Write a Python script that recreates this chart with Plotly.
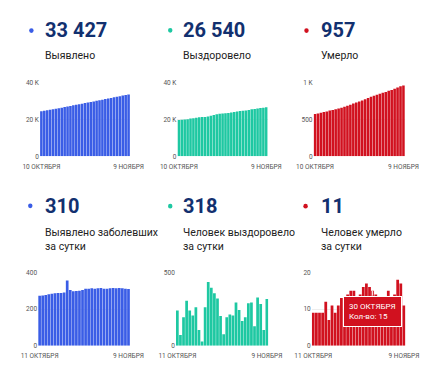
import plotly.graph_objects as go

W, H = 435, 370

# ---------------- data ----------------
dates_top = ["10 ОКТЯБРЯ", "11 ОКТЯБРЯ", "12 ОКТЯБРЯ", "13 ОКТЯБРЯ", "14 ОКТЯБРЯ", "15 ОКТЯБРЯ",
             "16 ОКТЯБРЯ", "17 ОКТЯБРЯ", "18 ОКТЯБРЯ", "19 ОКТЯБРЯ", "20 ОКТЯБРЯ", "21 ОКТЯБРЯ",
             "22 ОКТЯБРЯ", "23 ОКТЯБРЯ", "24 ОКТЯБРЯ", "25 ОКТЯБРЯ", "26 ОКТЯБРЯ", "27 ОКТЯБРЯ",
             "28 ОКТЯБРЯ", "29 ОКТЯБРЯ", "30 ОКТЯБРЯ", "31 ОКТЯБРЯ", "1 НОЯБРЯ", "2 НОЯБРЯ",
             "3 НОЯБРЯ", "4 НОЯБРЯ", "5 НОЯБРЯ", "6 НОЯБРЯ", "7 НОЯБРЯ", "8 НОЯБРЯ", "9 НОЯБРЯ"]
dates_bottom = dates_top[1:]

cases_total = [24342, 24614, 24888, 25165, 25446, 25729, 26015, 26303, 26591, 26881, 27237,
               27541, 27838, 28137, 28437, 28741, 29052, 29363, 29676, 29987, 30300, 30615,
               30926, 31237, 31550, 31865, 32178, 32493, 32806, 33117, 33427]
recovered_total = [19560, 19800, 19873, 20068, 20374, 20614, 20820, 21082, 21189, 21218, 21480,
                   21915, 22310, 22667, 22989, 23191, 23269, 23464, 23677, 23883, 24178, 24422,
                   24591, 24786, 25075, 25370, 25503, 25831, 26115, 26222, 26540]
deaths_total = [571, 580, 589, 598, 607, 619, 626, 637, 646, 657, 670, 683, 697, 712, 727, 740,
                754, 770, 787, 803, 818, 832, 845, 858, 870, 885, 897, 911, 929, 946, 957]

cases_daily = [272, 274, 277, 281, 283, 286, 288, 288, 290, 356, 304, 297, 299, 300, 304, 311,
               311, 313, 311, 313, 315, 311, 311, 313, 315, 313, 315, 313, 311, 310]
recovered_daily = [240, 73, 195, 306, 240, 206, 262, 107, 29, 262, 435, 395, 357, 322, 202, 78,
                   195, 213, 206, 295, 244, 169, 195, 289, 295, 133, 328, 284, 107, 318]
deaths_daily = [9, 9, 9, 9, 12, 7, 11, 9, 11, 13, 13, 14, 15, 15, 13, 14, 16, 17, 16, 15, 14, 13,
                13, 12, 15, 12, 14, 18, 17, 11]

headline_values = ["33 427", "26 540", "957", "310", "318", "11"]
titles = ["Выявлено", "Выздоровело", "Умерло",
          "Выявлено заболевших<br>за сутки", "Человек выздоровело<br>за сутки",
          "Человек умерло<br>за сутки"]

y_ranges = [[0, 40000], [0, 40000], [0, 1000], [0, 400], [0, 500], [0, 20]]
y_tickvals = [[0, 20000, 40000], [0, 20000, 40000], [0, 500, 1000],
              [0, 200, 400], [0, 500], [0, 10, 20]]
y_ticktext = [["0", "20 K", "40 K"], ["0", "20 K", "40 K"], ["0", "500", "1 K"],
              ["0", "200", "400"], ["0", "500"], ["0", "10", "20"]]

tooltip_index = 19  # 30 ОКТЯБРЯ in the daily deaths panel

# ---------------- style ----------------
BLUE = "#3a5de6"
GREEN = "#1ec8a2"
RED = "#d1111f"
NAVY = "#12306f"
colors = [BLUE, GREEN, RED, BLUE, GREEN, RED]
FONT = "Roboto"

# panel geometry in pixels: (x0, x1, ytop, ybottom)
panels = [
    (24.7, 121.7, 80.0, 155.7),
    (172.7, 270.0, 80.0, 155.7),
    (319.3, 417.7, 80.0, 155.7),
    (22.7, 121.7, 274.3, 349.3),
    (171.0, 270.7, 274.3, 349.3),
    (317.3, 418.3, 274.3, 349.3),
]
number_pos = [(28.3, 26.7), (176.7, 26.7), (325.0, 26.7),
              (28.3, 206.3), (176.7, 206.5), (325.0, 206.5)]
title_pos = [(28.3, 53.0), (176.7, 53.0), (325.0, 53.0),
             (28.3, 240.8), (176.7, 240.8), (325.0, 240.8)]
dot_pos = [(15.5, 27.2), (165.0, 26.9), (311.7, 27.2),
           (14.3, 206.3), (165.0, 206.6), (310.7, 206.6)]


def px(x):
    return x / W


def py(y):
    return 1 - y / H


series = [
    (dates_top, cases_total), (dates_top, recovered_total), (dates_top, deaths_total),
    (dates_bottom, cases_daily), (dates_bottom, recovered_daily), (dates_bottom, deaths_daily),
]

fig = go.Figure()
layout = dict(
    width=W, height=H, margin=dict(l=0, r=0, t=0, b=0),
    paper_bgcolor="white", plot_bgcolor="white",
    showlegend=False, bargap=0.12,
    font=dict(family=FONT),
    annotations=[], shapes=[],
)

for i, ((xs, ys), (x0, x1, yt, yb)) in enumerate(zip(series, panels)):
    n = i + 1
    xa = "x" if n == 1 else f"x{n}"
    ya = "y" if n == 1 else f"y{n}"
    fig.add_trace(go.Bar(x=xs, y=ys, marker=dict(color=colors[i], line=dict(width=0)),
                         xaxis=xa, yaxis=ya, hoverinfo="skip"))
    layout[f"xaxis{'' if n == 1 else n}"] = dict(
        domain=[px(x0), px(x1)], anchor=ya, type="category",
        tickvals=[xs[0], xs[-1]], ticktext=[xs[0], xs[-1]],
        showgrid=False, showline=False, zeroline=False, ticks="",
        tickfont=dict(size=6.5, color="#555555", family=FONT), tickangle=0,
        ticklabelstandoff=5, fixedrange=True,
    )
    layout[f"yaxis{'' if n == 1 else n}"] = dict(
        domain=[py(yb), py(yt)], anchor=xa, range=y_ranges[i],
        tickvals=y_tickvals[i], ticktext=y_ticktext[i],
        showgrid=True, gridcolor="#eeeeee", gridwidth=1, zeroline=False, showline=False,
        ticks="", tickfont=dict(size=6.5, color="#555555", family=FONT),
        fixedrange=True,
    )
    # headline number
    nx, ny = number_pos[i]
    layout["annotations"].append(dict(
        x=px(nx), y=py(ny), xref="paper", yref="paper", xanchor="left", yanchor="middle",
        text=f"<b>{headline_values[i]}</b>", showarrow=False,
        font=dict(size=20, color=NAVY, family=FONT)))
    tx, ty = title_pos[i]
    layout["annotations"].append(dict(
        x=px(tx), y=py(ty), xref="paper", yref="paper", xanchor="left", yanchor="middle",
        text=titles[i], showarrow=False, align="left",
        font=dict(size=10.5, color="#222222", family=FONT)))
    dx, dy = dot_pos[i]
    r = 2.4
    layout["shapes"].append(dict(
        type="circle", xref="paper", yref="paper",
        x0=px(dx - r), x1=px(dx + r), y0=py(dy + r), y1=py(dy - r),
        fillcolor=colors[i], line=dict(width=0)))

# tooltip on the daily deaths panel
layout["annotations"].append(dict(
    x=dates_bottom[tooltip_index], y=deaths_daily[tooltip_index], xref="x6", yref="y6",
    text=f"{dates_bottom[tooltip_index]}<br>Кол-во: {deaths_daily[tooltip_index]}",
    showarrow=True, ax=0, ay=5, axref="pixel", ayref="pixel",
    arrowhead=0, arrowwidth=1, arrowcolor="#ffffff", standoff=0,
    xanchor="center", yanchor="top", align="left",
    bgcolor=RED, bordercolor="#ffffff", borderwidth=1, borderpad=5,
    font=dict(size=8, color="#ffffff", family=FONT)))

fig.update_layout(**layout)

fig.write_html("out.html", config={"displayModeBar": False, "staticPlot": True},
               post_script="document.body.style.margin='0';document.body.style.overflow='hidden';")
